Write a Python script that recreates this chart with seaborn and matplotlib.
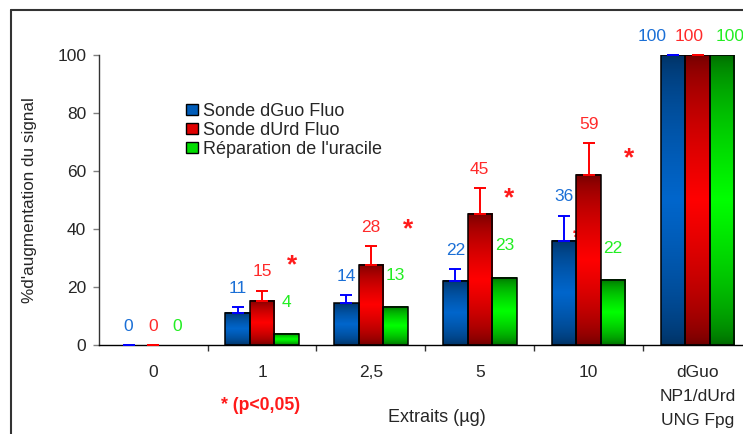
import numpy as np
import pandas as pd
import matplotlib
matplotlib.use("Agg")
import matplotlib.pyplot as plt
from matplotlib.patches import Patch
from matplotlib.lines import Line2D
import seaborn as sns

# ---------------- data ----------------
categories = ["0", "1", "2,5", "5", "10", "dGuo\nNP1/dUrd\nUNG Fpg"]
series = ["Sonde dGuo Fluo", "Sonde dUrd Fluo", "Réparation de l'uracile"]
dguo_values = [0, 11.2, 14.4, 22.3, 35.9, 100]
durd_values = [0, 15.4, 27.8, 45.4, 58.8, 100]
repar_values = [0, 3.8, 13.2, 23.3, 22.4, 100]
dguo_err = [0, 2.0, 2.9, 4.0, 8.7, 0]
durd_err = [0, 3.4, 6.3, 8.7, 10.8, 0]
yticks = [0, 20, 40, 60, 80, 100]
ylabel = "%d'augmentation du signal"
xlabel = "Extraits (µg)"
signif_note = "* (p<0,05)"
# significance stars (annotation positions, data coords)
stars = [(1.28, 27.7), (2.34, 40.0), (3.27, 50.6), (4.37, 64.3)]
hidden_stars = [(3.90, 37.0), (5.13, 56.4)]

values = [dguo_values, durd_values, repar_values]
errors = [dguo_err, durd_err, None]

# ---------------- styles ----------------
bright = ["#0066cc", "#ff0000", "#00ff00"]
dark = ["#002f5e", "#6a0000", "#006400"]
legend_cols = ["#005cb8", "#e00000", "#00dd00"]
err_cols = ["#0000ff", "#ff0000", None]
label_cols = ["#1a6fd6", "#ff2a2a", "#22ee22"]

sns.set_style("ticks")
plt.rcParams["font.family"] = ["Liberation Sans", "DejaVu Sans"]

df = pd.DataFrame({
    "extrait": categories * 3,
    "serie": sum([[s] * len(categories) for s in series], []),
    "value": dguo_values + durd_values + repar_values,
})

W, H = 743, 434
fig = plt.figure(figsize=(W / 100, H / 100), dpi=100)
ax_left, ax_right = 98.7, 752.0
ax_top, ax_bot = 55.0, 345.3
ax = fig.add_axes([ax_left / W, 1 - ax_bot / H, (ax_right - ax_left) / W, (ax_bot - ax_top) / H])

sns.barplot(data=df, x="extrait", y="value", hue="serie", order=categories,
            hue_order=series, palette=bright, width=0.675, errorbar=None,
            edgecolor="black", linewidth=1.1, legend=False, ax=ax)

ax.set_xlim(-0.5, 5.5)
ax.set_ylim(0, 100)

# gradient fill per bar (dark - bright - dark)
t = np.linspace(0, 1, 256)
prof = (1 - np.abs(2 * t - 1)) ** 0.6
bar_info = []
for k, cont in enumerate(list(ax.containers)[:3]):
    c0 = np.array(matplotlib.colors.to_rgb(dark[k]))
    c1 = np.array(matplotlib.colors.to_rgb(bright[k]))
    grad = (c0[None, :] + (c1 - c0)[None, :] * prof[:, None])[:, None, :]
    info = []
    for p in cont.patches:
        x0, w, h = p.get_x(), p.get_width(), p.get_height()
        info.append((x0 + w / 2, h))
        p.set_facecolor("none")
        p.set_zorder(2)
        if h > 0:
            ax.imshow(grad, extent=[x0, x0 + w, 0, h], aspect="auto",
                      origin="upper", zorder=1.5, interpolation="bilinear")
        else:
            p.set_linewidth(0)
    bar_info.append(info)

ax.set_xlim(-0.5, 5.5)
ax.set_ylim(0, 100)
ax.set_aspect("auto")

# error bars (upper only)
for k in range(3):
    if errors[k] is None:
        continue
    xs = [b[0] for b in bar_info[k]]
    ys = [b[1] for b in bar_info[k]]
    ax.errorbar(xs, ys, yerr=[np.zeros(len(xs)), errors[k]], fmt="none",
                ecolor=err_cols[k], elinewidth=1.4, capsize=4.5, capthick=1.4,
                zorder=3, clip_on=False)

# value labels
n = len(categories)
for k in range(3):
    for i, (xc, h) in enumerate(bar_info[k]):
        e = errors[k][i] if errors[k] is not None else 0
        if i == 0 or i == n - 1:
            off = 6.5
        else:
            off = 6.5 if k < 2 else 11
        dx = 0
        if i == n - 1:
            dx = [-0.19, -0.08, 0.07][k]
        ax.text(xc + dx, h + e + off, f"{values[k][i]:.0f}", color=label_cols[k],
                ha="center", va="center", fontsize=12.5, clip_on=False)

# significance stars
for (sx, sy) in stars:
    ax.text(sx, sy, "*", color="#ff1a1a", fontsize=19, fontweight="bold",
            ha="center", va="center", zorder=3)
for (sx, sy) in hidden_stars:
    ax.text(sx, sy, "*", color="#ff1a1a", fontsize=19, fontweight="bold",
            ha="center", va="center", zorder=1.0)

# axes styling
for s in ["top", "right"]:
    ax.spines[s].set_visible(False)
ax.spines["left"].set_color("#333333")
ax.spines["bottom"].set_color("black")
ax.spines["left"].set_linewidth(1.0)
ax.spines["bottom"].set_linewidth(1.0)
ax.set_yticks(yticks)
ax.tick_params(axis="y", length=4, width=1, color="#808080", pad=5, labelsize=12.5)
ax.set_xticks(range(n))
ax.set_xticklabels(categories)
ax.set_xticks([i + 0.5 for i in range(n - 1)], minor=True)
ax.tick_params(axis="x", which="major", length=0, pad=14.5, labelsize=12.5)
ax.tick_params(axis="x", which="minor", length=4, width=1, color="#333333")
ax.get_xticklabels()[-1].set_linespacing(1.75)

ax.set_xlabel(xlabel, fontsize=13)
ax.xaxis.set_label_coords((437 - ax_left) / (ax_right - ax_left), -(409 - ax_bot) / (ax_bot - ax_top))
ax.set_ylabel(ylabel, fontsize=12.3)
ax.yaxis.set_label_coords((37 - ax_left) / (ax_right - ax_left), 0.5)

fig.text(261 / W, 1 - 405 / H, signif_note, color="#ff1a1a", fontsize=12.7,
         fontweight="bold", ha="center", va="center")

handles = [Patch(facecolor=c, edgecolor="black", linewidth=1.0) for c in legend_cols]
ax.legend(handles, series, loc="upper left", bbox_to_anchor=(186 / W, 1 - 103 / H),
          bbox_transform=fig.transFigure, frameon=False, fontsize=13,
          handlelength=0.65, handleheight=0.6, handletextpad=0.3,
          labelspacing=0.1, borderpad=0, borderaxespad=0)

# outer frame (partially visible)
fig.add_artist(Line2D([11 / W, 11 / W], [0, 1 - 10 / H], transform=fig.transFigure,
                      color="#333333", lw=1.5))
fig.add_artist(Line2D([11 / W, 1], [1 - 10 / H, 1 - 10 / H], transform=fig.transFigure,
                      color="#333333", lw=1.5))

fig.savefig("out.png", dpi=100)
